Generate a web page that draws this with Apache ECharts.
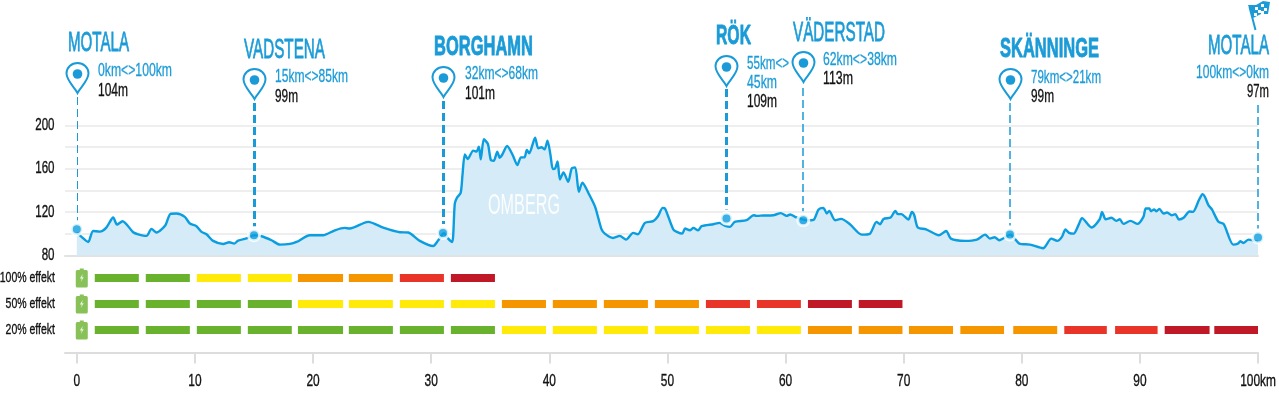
<!DOCTYPE html>
<html><head><meta charset="utf-8">
<style>html,body{margin:0;padding:0;background:#fff}#c{width:1279px;height:393px}</style>
<script src="https://cdn.jsdelivr.net/npm/echarts@6/dist/echarts.min.js"></script>
</head><body><div id="c"></div>
<script>
// ---- data ----
const profileKm = [0,0.4,0.96,1.38,1.95,2.5,3.08,3.4,3.87,4.77,5.2,5.9,6.32,6.75,7.5,7.93,8.44,9.14,9.57,10.13,10.56,10.98,11.54,12.39,12.9,13.32,13.66,14.5,15,15.64,16.48,17.19,18.04,18.6,19.73,20.86,21.85,22.69,23.1,24.67,25.94,27.35,28.06,29.04,30.17,30.6,31.08,31.44,31.78,32,32.2,32.5,32.65,32.85,33.1,33.56,33.84,34.04,34.2,34.46,34.8,35.05,35.3,35.6,35.8,36,36.43,36.9,37.3,37.6,37.9,38.1,38.3,38.8,39.06,39.35,39.6,39.85,40.1,40.3,40.5,40.7,40.9,41.2,41.6,41.9,42.2,42.5,42.8,43.4,43.9,44.4,44.7,45.4,45.97,46.5,47.1,47.5,48.1,48.8,49.2,49.6,49.8,50.5,50.8,51.25,51.5,51.9,52.2,52.6,52.9,53.9,54.4,54.9,55.3,55.7,56.7,57.3,57.55,58.1,58.96,59.6,60.1,60.4,60.8,61.5,62,62.4,62.8,63.2,63.5,63.7,64.2,64.7,65.45,66.44,67.15,67.7,68,68.3,68.9,69.3,69.5,69.8,70.4,70.7,70.9,71.2,71.9,73,73.6,74,75.2,76.2,76.9,77.3,77.7,78.1,79.03,79.8,80.7,81.8,82.5,83,83.4,83.7,84,84.4,84.8,85.1,85.9,86.6,86.8,87.1,87.6,88,88.3,88.6,89.2,89.8,90.3,90.5,90.8,90.95,91.2,91.4,91.65,92,92.3,92.7,93,93.3,93.7,94.2,94.5,95,95.3,95.5,95.8,96.1,96.65,97.1,97.9,98.3,98.5,98.75,99.2,100];
const profileM = [101,97,92.3,102.5,101.9,105.6,114.9,108.4,111.5,101.3,99.4,97.9,104.4,101,107.8,118.3,118.6,115.5,109.3,106.9,101.6,99.4,93.3,90.5,92,90.8,93.6,96,98.5,97.6,93.9,89.9,90.5,92.3,98.5,98.5,103.1,105.3,104.7,110.9,105.6,101.3,101,93.3,88.6,93.9,100.4,95.4,92.3,127.8,133.4,137.7,154,173.2,168.9,176.6,175.7,180.3,168.6,187.1,182.8,168,167.3,175.7,170.1,172.6,180.9,172.6,163.3,170.4,170.4,177.2,174.1,188.6,178.8,179.7,177.8,185.9,172.6,159.6,160.2,166.7,150,156.5,147.9,160.2,161.2,138.6,147,135.6,124.1,104.7,100,96,97.9,94.5,100.7,99.4,109.9,111.5,116.1,123.8,123.2,103.8,101.6,100,104.7,103.1,105.3,103.1,106.9,108.7,109.9,107.2,106.2,110.9,112.4,117,116.4,116.7,117,118.9,116.4,117.7,115.5,113,112.4,113,122.3,123.8,118.6,121,112.4,113.6,108.7,99.1,100,110.9,108.7,113.6,114.9,121,118,118,113,120.1,117,105.6,104,98.5,102.5,95.4,93.3,94.5,99.1,95.4,96.7,93.9,99.1,90.8,89.9,86.5,95.4,93.3,97,103.8,100.7,100,107.8,114.3,105.6,113.3,120.1,113.3,114.6,111.8,113.3,109,111.8,109,115.5,123.2,123.2,120.7,122.3,120.7,122.9,118.6,119.5,117,118,113,114.6,120.4,120.1,131,136.5,134,126.3,122.3,110.9,108.7,89.9,90.8,93,91.4,94.5,92.3];
const stopNames = ['MOTALA','VADSTENA','BORGHAMN','RÖK','VÄDERSTAD','SKÄNNINGE','MOTALA'];
const stopKm = [0,15,31,55,61.5,79,100];
const stopMarkerM = [104,98.5,100.5,114,112.4,99.1,96.4];
const stopDistance = ['0km<>100km','15km<>85km','32km<>68km','55km<>','62km<>38km','79km<>21km','100km<>0km'];
const stopDistance2 = ['','','','45km','','',''];
const stopHeight = ['104m','99m','101m','109m','113m','99m','97m'];
const rowNames = ['20% effekt','50% effekt','100% effekt'];
const segmentStartKm = [1.52,5.84,10.16,14.48,18.72,23.03,27.35,31.67,35.99,40.3,44.62,48.94,53.26,57.58,61.9,66.2,70.45,74.8,79.28,83.6,87.9,92.1,96.3];
const segmentEndKm = [5.25,9.57,13.89,18.2,22.54,26.76,31.08,35.4,39.72,44.03,48.35,52.67,56.99,61.3,65.62,69.9,74.18,78.5,83.0,87.2,91.5,95.9,100];
const colour100 = [0,0,1,1,2,2,3,4];
const colour50 = [0,0,0,0,1,1,1,1,2,2,2,2,3,3,4,4];
const colour20 = [0,0,0,0,0,0,0,0,1,1,1,1,1,1,2,2,2,2,2,3,3,4,4];
const xTicks = [0,10,20,30,40,50,60,70,80,90,100];
const yTickLabels = [80,120,160,200];

// ---- styling ----
const BLUE='#1a9bd7', LINE='#0a9de0', FILL='#d5ebf7', FONT='"Liberation Sans",sans-serif', INK='#111';
const PALETTE=['#69b22e','#ffea0a','#f59500','#e9342a','#c01826'];
const PIN='M11 1C5.5 1 1 5.5 1 11C1 18 8 24 11 30C14 24 21 18 21 11C21 5.5 16.5 1 11 1Z';
const pinTop=[63,69,67,56,52,69,null];
const dashTop=[97,103,101,89,88,103,105];
const dashW=[1,3,3,3,1.5,1.5,1.5];
const titleBox=[[68,129,43.5,0],[244,325,50,0],[434,533,47.5,1],[716,751,36.5,1],[793,885,33,0],[1000,1099,49,1],[1208,1269,46,0]];
const distBox=[[98,172,71],[275,348,77],[465,538,74],[747,789,64],[823,897,60],[1031,1101,78],[1196,1269,73]];
const heightBox=[[98,128,91],[275,298,97],[465,495,94],[747,777,102],[823,853,79],[1031,1054,97],[1247,1269,92]];

const chart = echarts.init(document.getElementById('c'),null,{renderer:'canvas'});
const segData=[];
[[2,colour100],[1,colour50],[0,colour20]].forEach(([row,cols])=>cols.forEach((c,i)=>segData.push([segmentStartKm[i],segmentEndKm[i],row,c])));

chart.setOption({
  animation:false,
  backgroundColor:'#fff',
  textStyle:{fontFamily:FONT},
  grid:[
    {left:65,width:1193,top:125.3,height:130,outerBoundsMode:'none'},
    {left:65,width:1193,top:265,height:78,outerBoundsMode:'none'}
  ],
  xAxis:[
    {gridIndex:0,type:'value',min:-1,max:100,splitLine:{show:false},
     axisLine:{show:true,onZero:false,lineStyle:{color:'#e2e2e2',width:2}},axisTick:{show:false},axisLabel:{show:false}},
    {gridIndex:1,type:'value',min:-1,max:100,offset:9.5,splitLine:{show:false},
     axisLine:{show:true,onZero:false,lineStyle:{color:'#ddd',width:2}},
     axisTick:{show:true,length:11,lineStyle:{color:'#ddd',width:2},customValues:xTicks},
     axisLabel:{show:false}}
  ],
  yAxis:[
    {gridIndex:0,type:'value',min:80,max:200,interval:20,
     axisLine:{show:false},axisTick:{show:false},
     splitLine:{show:true,lineStyle:{color:'#eeeeee',width:2}},axisLabel:{show:false}},
    {gridIndex:1,type:'category',data:rowNames,
     axisLine:{show:false},axisTick:{show:false},splitLine:{show:false},axisLabel:{show:false}}
  ],
  series:[
    {type:'line',xAxisIndex:0,yAxisIndex:0,data:profileKm.map((k,i)=>[k,profileM[i]]),showSymbol:false,smooth:0.25,
     lineStyle:{color:LINE,width:2.4},areaStyle:{color:FILL,opacity:1},z:3},
    {type:'scatter',xAxisIndex:0,yAxisIndex:0,data:stopKm.map((k,i)=>[k,stopMarkerM[i]]),symbolSize:11,clip:false,
     itemStyle:{color:LINE,borderColor:'#fff',borderWidth:3},z:5},
    {type:'custom',xAxisIndex:0,yAxisIndex:0,clip:false,z:6,silent:true,encode:{x:0,y:1},
     data:stopKm.map((k,i)=>[k,stopMarkerM[i],i]).filter(d=>pinTop[d[2]]!=null),
     renderItem:(p,api)=>{
       const X=Math.round(api.coord([api.value(0),api.value(1)])[0])+0.5, top=pinTop[api.value(2)];
       return {type:'group',children:[
         {type:'path',x:X-11,y:top,shape:{pathData:PIN,x:0,y:0,width:22,height:30,layout:'cover'},style:{fill:'#fff',stroke:BLUE,lineWidth:2}},
         {type:'circle',shape:{cx:X,cy:top+11,r:4.8},style:{fill:BLUE}}
       ]};
     }},
    {type:'custom',xAxisIndex:1,yAxisIndex:1,data:segData,clip:false,z:3,encode:{x:[0,1],y:2},
     renderItem:(p,api)=>{
       const a=api.coord([api.value(0),api.value(2)]),b=api.coord([api.value(1),api.value(2)]);
       return {type:'rect',shape:{x:a[0],y:a[1]-4,width:b[0]-a[0],height:8},style:{fill:PALETTE[api.value(3)]}};
     }},
    {type:'scatter',xAxisIndex:1,yAxisIndex:1,data:[[0.42,0],[0.42,1],[0.42,2]],
     symbol:'path://M4 0H8V1.5H10.5Q12 1.5 12 3V17.5Q12 19 10.5 19H1.5Q0 19 0 17.5V3Q0 1.5 1.5 1.5H4Z',symbolSize:[12,19],
     itemStyle:{color:'#69b22e'},z:4},
    {type:'scatter',xAxisIndex:1,yAxisIndex:1,data:[[0.42,0],[0.42,1],[0.42,2]],
     symbol:'path://M3 0L0 5H2L1 9L4 3.6H2.2Z',symbolSize:[4,8],itemStyle:{color:'#fff'},z:5}
  ]
});

// ---- text and annotations, placed from the library's own scales ----
const measure=document.createElement('canvas').getContext('2d');
function txt(str,left,right,cy,size,weight,fill,opacity,thick){
  measure.font=(weight||'normal')+' '+size+'px '+FONT;
  const w=measure.measureText(str).width;
  return {type:'text',x:left,y:cy,scaleX:(right-left)/w,z:20,silent:true,
    style:{text:str,fill:fill,opacity:opacity==null?1:opacity,fontSize:size,fontWeight:weight||'normal',fontFamily:FONT,textAlign:'left',textVerticalAlign:'middle',verticalAlign:'middle',
      stroke:thick?fill:'transparent',lineWidth:thick||0}};
}
function scaled(str,anchorX,cy,size,scale,align){
  measure.font='normal '+size+'px '+FONT;
  const w=measure.measureText(str).width*scale;
  const left=align==='right'?anchorX-w:align==='center'?anchorX-w/2:anchorX;
  return txt(str,left,left+w,cy,size,'normal',INK,1,0.35);
}
const g=[];
const px=(k,m)=>chart.convertToPixel({gridIndex:0},[k,m]);
stopNames.forEach((n,i)=>{
  const p=px(stopKm[i],stopMarkerM[i]), X=Math.round(p[0])+(dashW[i]===1||dashW[i]===3?0.5:0);
  g.push({type:'line',z:1,silent:true,shape:{x1:X,y1:dashTop[i],x2:X,y2:p[1]-9},style:{stroke:BLUE,lineWidth:dashW[i],lineDash:[8,4]}});
  const b=titleBox[i];
  g.push(txt(n,b[0],b[1],b[2],28,b[3]?'bold':'normal',BLUE,1,b[3]?0.9:0.8));
  const d=distBox[i]; g.push(txt(stopDistance[i],d[0],d[1],d[2],19,'normal',BLUE,1,0.3));
  if(stopDistance2[i]) g.push(txt(stopDistance2[i],747,777,83,19,'normal',BLUE,1,0.3));
  const h=heightBox[i]; g.push(txt(stopHeight[i],h[0],h[1],h[2],18,'normal',INK,1,0.35));
});
yTickLabels.forEach(v=>g.push(scaled(String(v),54.5,px(0,v)[1],17,0.68,'right')));
xTicks.forEach(v=>{
  const x=chart.convertToPixel({xAxisIndex:1},v);
  g.push(scaled(v===100?'100km':String(v),x,381,17,0.7,'center'));
});
rowNames.forEach((r,i)=>g.push(scaled(r,55,chart.convertToPixel({yAxisIndex:1},i),15,0.7,'right')));
g.push(txt('OMBERG',488,560,206,30,'normal','#fff',0.9));
// finish flag
g.push({type:'line',z:10,silent:true,shape:{x1:1249.5,y1:7,x2:1255.5,y2:30},style:{stroke:BLUE,lineWidth:2}});
g.push({type:'polygon',z:10,silent:true,shape:{points:[[1248,5],[1256,5],[1263,1],[1270,2],[1268,14],[1261,14],[1253,18]]},style:{fill:BLUE}});
[[1255,7],[1261,4],[1258,10],[1264,8],[1254,13],[1261,11]].forEach(q=>g.push({type:'rect',z:11,silent:true,shape:{x:q[0],y:q[1],width:3,height:3},style:{fill:'#fff'}}));
chart.setOption({graphic:{elements:g}});
</script></body></html>
